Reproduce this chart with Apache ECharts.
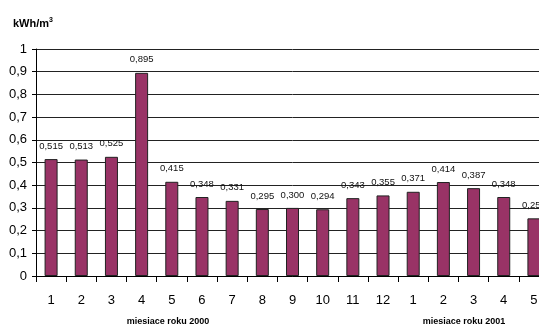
<!DOCTYPE html>
<html>
<head>
<meta charset="utf-8">
<script src="https://cdn.jsdelivr.net/npm/echarts@6/dist/echarts.min.js"></script>
<style>
  html, body { margin: 0; padding: 0; background: #fff; overflow: hidden; }
  #chart { width: 550px; height: 327px; }
</style>
</head>
<body>
<div id="chart"></div>
<script>
// Monthly specific energy use, months of 2000 followed by the first months of 2001
const months = ['1','2','3','4','5','6','7','8','9','10','11','12','1','2','3','4','5'];
const values = [0.515, 0.513, 0.525, 0.895, 0.415, 0.348, 0.331, 0.295, 0.300, 0.294,
                0.343, 0.355, 0.371, 0.414, 0.387, 0.348, 0.254];
const yearCaptions = ['miesiace roku 2000', 'miesiace roku 2001'];

const FONT = '"Liberation Sans", Arial, sans-serif';
const fmt = v => v.toFixed(3).replace('.', ',');

const chart = echarts.init(document.getElementById('chart'), null, { renderer: 'canvas' });
chart.setOption({
  animation: false,
  backgroundColor: '#fff',
  grid: { left: 36, top: 49, width: 513, bottom: 51, containLabel: false },
  xAxis: {
    type: 'category',
    data: months,
    boundaryGap: true,
    axisLine: { lineStyle: { color: '#000', width: 1 } },
    axisTick: { show: true, length: 6, alignWithLabel: false, lineStyle: { color: '#000' } },
    axisLabel: { color: '#000', fontFamily: FONT, fontSize: 13, margin: 18, interval: 0 }
  },
  yAxis: {
    type: 'value',
    min: 0, max: 1, interval: 0.1,
    axisLine: { show: true, lineStyle: { color: '#000', width: 1 } },
    axisTick: { show: true, length: 4, lineStyle: { color: '#000' } },
    axisLabel: {
      color: '#000', fontFamily: FONT, fontSize: 13, margin: 9,
      formatter: v => (Math.round(v * 10) / 10).toString().replace('.', ',')
    },
    splitLine: { show: true, lineStyle: { color: '#222', width: 1 } }
  },
  series: [{
    type: 'bar',
    data: values,
    barWidth: 13,
    itemStyle: { color: '#993366', borderColor: '#222', borderWidth: 1 },
    label: {
      show: true, position: 'top', distance: 8,
      fontFamily: FONT, fontSize: 9.5, lineHeight: 10, color: '#111',
      formatter: p => fmt(p.value)
    }
  }],
  graphic: [
    {
      type: 'text', left: 13, top: 17,
      style: {
        text: '{b|kWh/m}{s|3}',
        rich: {
          b: { fontFamily: FONT, fontSize: 11, fontWeight: 'bold', fill: '#000' },
          s: { fontFamily: FONT, fontSize: 7, fontWeight: 'bold', fill: '#000', verticalAlign: 'top', padding: [0, 0, 6, 0] }
        }
      }
    },
    {
      type: 'text', x: 168, y: 322,
      style: { text: yearCaptions[0], fontFamily: FONT, fontSize: 9, fontWeight: 'bold', fill: '#000', align: 'center', verticalAlign: 'middle' }
    },
    {
      type: 'text', x: 464, y: 322,
      style: { text: yearCaptions[1], fontFamily: FONT, fontSize: 9, fontWeight: 'bold', fill: '#000', align: 'center', verticalAlign: 'middle' }
    }
  ]
});
</script>
</body>
</html>
